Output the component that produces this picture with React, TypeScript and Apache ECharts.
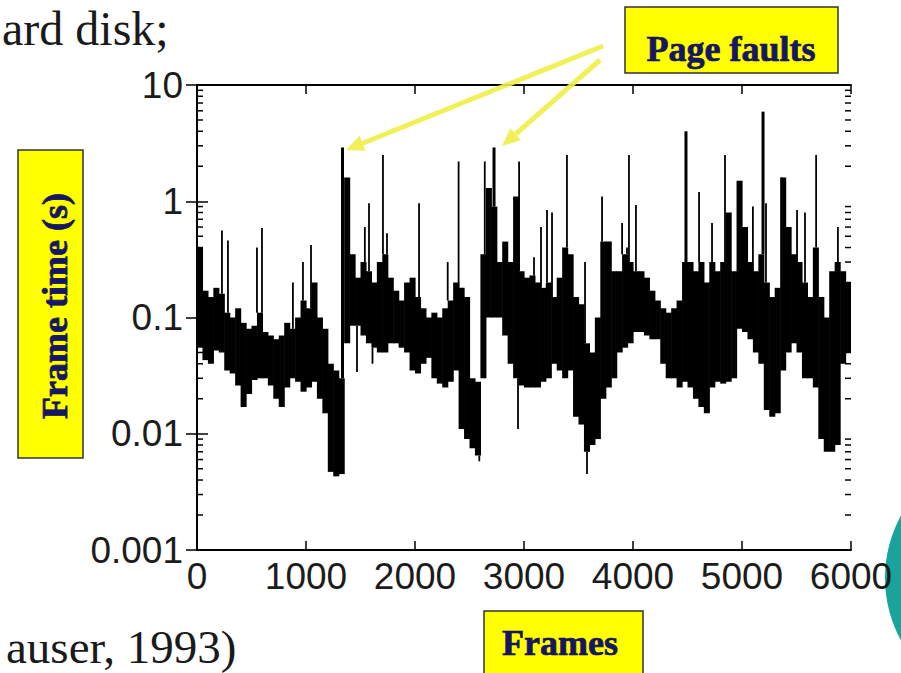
import React, { useEffect, useRef } from 'react';
import * as echarts from 'echarts';

// ---- data ----
const xTickValues = [0, 1000, 2000, 3000, 4000, 5000, 6000];
const yTickLabels = ['0.001', '0.01', '0.1', '1', '10'];
const minorMultipliers = [2, 3, 4, 5, 6, 7, 8, 9];
const decades = [0.001, 0.01, 0.1, 1];

// dense band of frame times, one entry per 50 frames
const binWidth = 50;
const binHigh = [
  0.4, 0.17, 0.15, 0.18, 0.16, 0.11, 0.1, 0.12, 0.09, 0.08,
  0.085, 0.11, 0.075, 0.07, 0.065, 0.07, 0.09, 0.08, 0.1, 0.14,
  0.12, 0.2, 0.1, 0.08, 0.04, 0.035, 0.03, 1.6, 0.35, 0.22,
  0.3, 0.25, 0.2, 0.3, 0.35, 0.22, 0.17, 0.14, 0.2, 0.22,
  0.15, 0.12, 0.1, 0.11, 0.1, 0.12, 0.14, 0.2, 0.18, 0.15,
  0.03, 0.028, 0.35, 1.3, 0.9, 0.3, 0.45, 0.3, 1.1, 0.25,
  0.22, 0.23, 0.2, 0.18, 0.2, 0.15, 0.22, 0.4, 0.35, 0.15,
  0.13, 0.06, 0.05, 0.1, 0.45, 0.45, 0.25, 0.25, 0.35, 0.3,
  0.25, 0.25, 0.22, 0.17, 0.14, 0.12, 0.11, 0.12, 0.14, 0.3,
  0.3, 0.25, 0.3, 0.2, 0.3, 0.25, 0.3, 0.8, 0.25, 1.5,
  0.6, 0.3, 0.25, 0.35, 0.2, 0.15, 0.18, 1.6, 0.6, 0.35,
  0.3, 0.2, 0.15, 0.4, 0.15, 0.1, 0.25, 0.3, 0.25, 0.2,
];
const binLow = [
  0.055, 0.043, 0.04, 0.052, 0.05, 0.035, 0.033, 0.026, 0.017, 0.022,
  0.029, 0.03, 0.03, 0.026, 0.02, 0.017, 0.025, 0.03, 0.028, 0.023,
  0.025, 0.028, 0.02, 0.015, 0.0047, 0.0043, 0.0045, 0.06, 0.085, 0.085,
  0.07, 0.06, 0.055, 0.05, 0.05, 0.06, 0.06, 0.055, 0.05, 0.035,
  0.033, 0.04, 0.045, 0.03, 0.027, 0.025, 0.028, 0.035, 0.011, 0.009,
  0.0075, 0.0065, 0.03, 0.1, 0.1, 0.1, 0.07, 0.04, 0.03, 0.026,
  0.025, 0.025, 0.025, 0.028, 0.03, 0.04, 0.035, 0.03, 0.035, 0.014,
  0.012, 0.007, 0.008, 0.009, 0.02, 0.025, 0.03, 0.05, 0.055, 0.06,
  0.075, 0.075, 0.07, 0.065, 0.065, 0.04, 0.03, 0.03, 0.025, 0.028,
  0.025, 0.02, 0.017, 0.015, 0.025, 0.028, 0.027, 0.028, 0.03, 0.08,
  0.075, 0.065, 0.05, 0.04, 0.016, 0.014, 0.015, 0.035, 0.05, 0.06,
  0.05, 0.03, 0.03, 0.025, 0.009, 0.007, 0.007, 0.008, 0.04, 0.05,
];

// isolated tall frames (page faults and other spikes)
const spikeFrames = [
  229, 284, 550, 596, 880, 972, 1046, 1335, 1540, 1578,
  1706, 1743, 2037, 2300, 2400, 2640, 2725, 2955, 3092, 3156,
  3211, 3257, 3394, 3560, 3716, 3900, 3945, 3963, 4027, 4486,
  4606, 4725, 4844, 5100, 5193, 5220, 5367, 5505, 5578, 5680, 5880,
];
const spikeTops = [
  0.56, 0.46, 0.4, 0.59, 0.2, 0.3, 0.42, 2.9, 0.6, 0.96,
  2.5, 0.53, 0.96, 0.3, 2.2, 2.2, 2.9, 2.2, 0.33, 0.6,
  0.84, 0.8, 2.5, 0.3, 1.1, 0.65, 0.4, 2.5, 0.93, 4.0,
  1.2, 0.65, 2.5, 0.9, 5.9, 0.96, 0.7, 0.84, 0.8, 2.5, 0.6,
];
// isolated short frames
const dipFrames = [1468, 1610, 2590, 2945, 3578];
const dipBottoms = [0.034, 0.04, 0.0058, 0.011, 0.0045];

// ---- layout ----
const GRID = { left: 197, top: 85, width: 654, height: 465 };
const TICK_FONT = '"Liberation Sans", Arial, sans-serif';
const SERIF = '"Liberation Serif", "Times New Roman", serif';
const NAVY = '#15156a';
const ARROW = 'rgba(238, 240, 70, 0.9)';

function arrow(x1: number, y1: number, x2: number, y2: number) {
  const dx = x2 - x1, dy = y2 - y1;
  const len = Math.sqrt(dx * dx + dy * dy);
  const ux = dx / len, uy = dy / len;
  const px = -uy, py = ux;
  const headLen = 18, headW = 8;
  const bx = x2 - ux * headLen, by = y2 - uy * headLen;
  return [
    { type: 'line', z: 100, shape: { x1, y1, x2: bx, y2: by }, style: { stroke: ARROW, lineWidth: 5 } },
    {
      type: 'polygon', z: 100,
      shape: { points: [[x2, y2], [bx + px * headW, by + py * headW], [bx - px * headW, by - py * headW]] },
      style: { fill: ARROW },
    },
  ];
}

function binIndex(frame: number) {
  return Math.min(binHigh.length - 1, Math.floor(frame / binWidth));
}

const labelText = (text: string) => ({
  text,
  font: `bold 36px ${SERIF}`,
  fill: NAVY,
  stroke: '#0a0a35',
  lineWidth: 0.7,
  textAlign: 'center',
  textVerticalAlign: 'middle',
  align: 'center',
  verticalAlign: 'middle',
});

export default function App() {
  const ref = useRef<HTMLDivElement>(null);

  useEffect(() => {
    if (!ref.current) return;
    const chart = echarts.init(ref.current, undefined, { renderer: 'svg' });

    const bandData = binHigh.map((h, i) => [i * binWidth, binLow[i], h]);
    const spikeData = spikeFrames.map((f, i) => [f, binHigh[binIndex(f)], spikeTops[i]]);
    const dipData = dipFrames.map((f, i) => [f, binLow[binIndex(f)], dipBottoms[i]]);
    const minorData: number[][] = [];
    decades.forEach((d) => minorMultipliers.forEach((m) => minorData.push([0, d * m])));

    const labelFor = (v: number) => {
      const e = Math.round(Math.log10(v));
      return yTickLabels[e + 3] ?? '';
    };

    const axisLine = { show: true, lineStyle: { color: '#000', width: 2 } };
    const tickStyle = { color: '#000', width: 1.5 };

    const option: any = {
      animation: false,
      backgroundColor: '#ffffff',
      grid: { ...GRID, containLabel: false, outerBoundsMode: 'none' },
      xAxis: [
        {
          type: 'value', min: 0, max: 6000, interval: 1000, position: 'bottom',
          axisLine, splitLine: { show: false },
          axisTick: { show: true, inside: true, length: 9, lineStyle: tickStyle },
          axisLabel: {
            show: true, margin: 8, fontSize: 37, color: '#1c1c1c', fontFamily: TICK_FONT,
            showMinLabel: true, showMaxLabel: true,
            formatter: (v: number) => (xTickValues.includes(v) ? String(v) : ''),
          },
        },
        {
          type: 'value', min: 0, max: 6000, interval: 1000, position: 'top',
          axisLine, splitLine: { show: false },
          axisTick: { show: true, inside: true, length: 9, lineStyle: tickStyle },
          axisLabel: { show: false },
        },
      ],
      yAxis: [
        {
          type: 'log', logBase: 10, min: 0.001, max: 10, position: 'left',
          axisLine, splitLine: { show: false },
          axisTick: { show: true, inside: true, length: 11, lineStyle: tickStyle },
          axisLabel: { show: true, margin: 14, fontSize: 37, color: '#1c1c1c', fontFamily: TICK_FONT, formatter: labelFor },
        },
        {
          type: 'log', logBase: 10, min: 0.001, max: 10, position: 'right',
          axisLine, splitLine: { show: false },
          axisTick: { show: true, inside: true, length: 11, lineStyle: tickStyle },
          axisLabel: { show: false },
        },
      ],
      series: [
        {
          type: 'custom', name: 'band', clip: true, xAxisIndex: 0, yAxisIndex: 0,
          data: bandData,
          renderItem: (_p: any, api: any) => {
            const x0 = api.value(0), lo = api.value(1), hi = api.value(2);
            const a = api.coord([x0, hi]);
            const b = api.coord([x0 + binWidth, lo]);
            return {
              type: 'rect',
              shape: { x: a[0], y: a[1], width: b[0] - a[0] + 0.6, height: b[1] - a[1] },
              style: { fill: '#000' },
            };
          },
        },
        {
          type: 'custom', name: 'spikes', clip: true, xAxisIndex: 0, yAxisIndex: 0,
          data: spikeData,
          renderItem: (_p: any, api: any) => {
            const f = api.value(0), base = api.value(1), top = api.value(2);
            const a = api.coord([f, base]);
            const b = api.coord([f, top]);
            return {
              type: 'line',
              shape: { x1: a[0], y1: a[1], x2: b[0], y2: b[1] },
              style: { stroke: '#000', lineWidth: top > 2.7 ? 3 : 1.8 },
            };
          },
        },
        {
          type: 'custom', name: 'dips', clip: true, xAxisIndex: 0, yAxisIndex: 0,
          data: dipData,
          renderItem: (_p: any, api: any) => {
            const f = api.value(0), base = api.value(1), bot = api.value(2);
            const a = api.coord([f, base]);
            const b = api.coord([f, bot]);
            return {
              type: 'line',
              shape: { x1: a[0], y1: a[1], x2: b[0], y2: b[1] },
              style: { stroke: '#000', lineWidth: 1.8 },
            };
          },
        },
        {
          type: 'custom', name: 'minorTicks', clip: false, xAxisIndex: 0, yAxisIndex: 0,
          data: minorData,
          renderItem: (_p: any, api: any) => {
            const v = api.value(1);
            const l = api.coord([0, v]);
            const r = api.coord([6000, v]);
            return {
              type: 'group',
              children: [
                { type: 'line', shape: { x1: l[0], y1: l[1], x2: l[0] + 6, y2: l[1] }, style: { stroke: '#000', lineWidth: 1.5 } },
                { type: 'line', shape: { x1: r[0], y1: r[1], x2: r[0] - 6, y2: r[1] }, style: { stroke: '#000', lineWidth: 1.5 } },
              ],
            };
          },
        },
      ],
      graphic: [
        // teal decoration at right edge
        { type: 'circle', shape: { cx: 1015, cy: 578, r: 130 }, style: { fill: '#1aa39b' } },
        // slide text fragments
        {
          type: 'text', x: 2, y: 28,
          style: { text: 'ard disk;', font: `48px ${SERIF}`, fill: '#1a1a1a', textAlign: 'left', textVerticalAlign: 'middle', align: 'left', verticalAlign: 'middle' },
        },
        {
          type: 'text', x: 6, y: 647,
          style: { text: 'auser, 1993)', font: `47px ${SERIF}`, fill: '#1a1a1a', textAlign: 'left', textVerticalAlign: 'middle', align: 'left', verticalAlign: 'middle' },
        },
        // Page faults label
        { type: 'rect', z: 90, shape: { x: 625, y: 7, width: 213, height: 66 }, style: { fill: '#ffff00', stroke: '#333', lineWidth: 1.5 } },
        { type: 'text', z: 91, x: 731, y: 49, style: labelText('Page faults') },
        // Frame time label
        { type: 'rect', z: 90, shape: { x: 18, y: 150, width: 65, height: 308 }, style: { fill: '#ffff00', stroke: '#333', lineWidth: 1.5 } },
        { type: 'text', z: 91, x: 55, y: 306, rotation: Math.PI / 2, style: labelText('Frame time (s)') },
        // Frames label
        { type: 'rect', z: 90, shape: { x: 484, y: 611, width: 159, height: 70 }, style: { fill: '#ffff00', stroke: '#333', lineWidth: 1.5 } },
        { type: 'text', z: 91, x: 560, y: 643, style: labelText('Frames') },
        // arrows
        ...arrow(603, 46, 346, 150),
        ...arrow(600, 60, 502, 146),
      ],
    };

    chart.setOption(option);
    return () => chart.dispose();
  }, []);

  return (
    <div
      ref={ref}
      style={{ position: 'fixed', left: 0, top: 0, width: 901, height: 673, background: '#fff' }}
    />
  );
}
